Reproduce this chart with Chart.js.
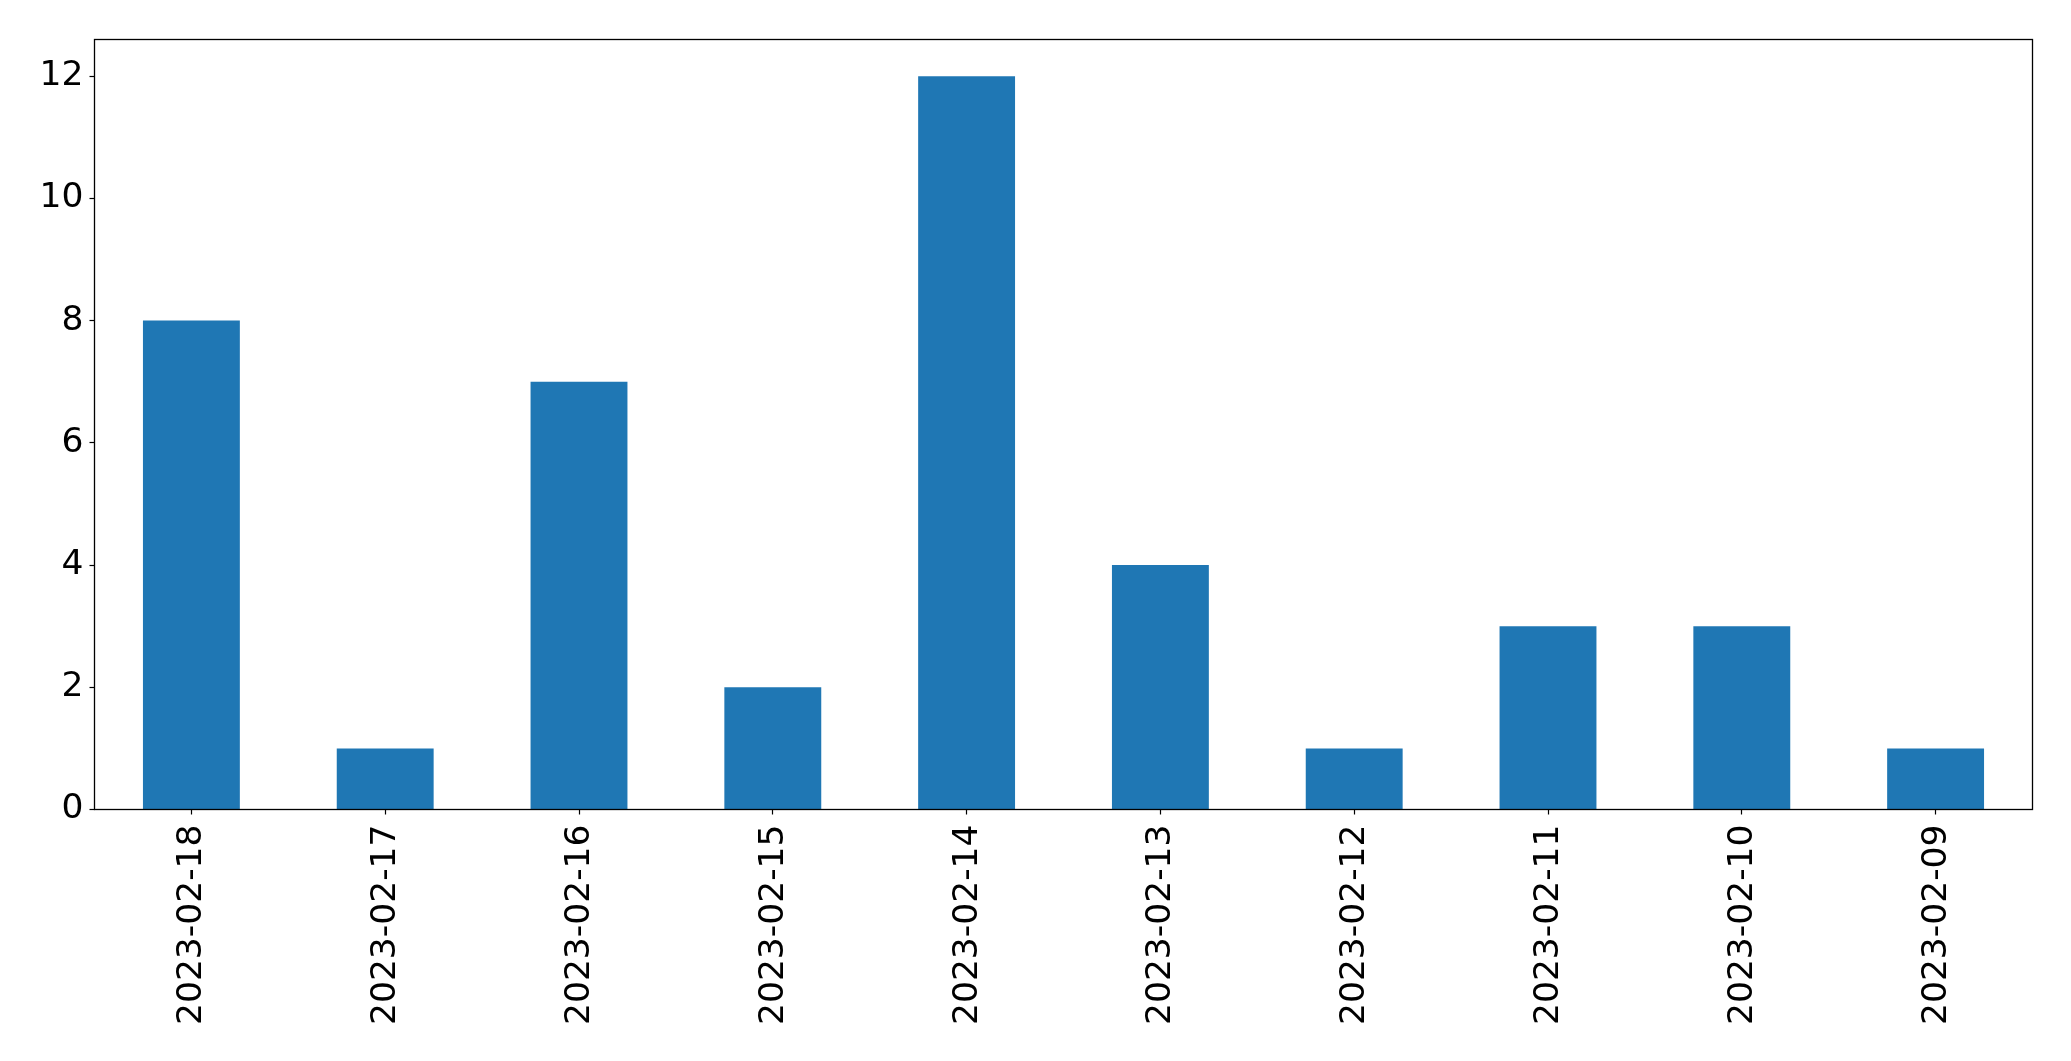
<!DOCTYPE html>
<html>
<head>
<meta charset="utf-8">
<script src="https://cdn.jsdelivr.net/npm/chart.js@4"></script>
<style>
  body { margin: 0; background: #fff; }
</style>
</head>
<body>
<canvas id="bar-chart" width="2071" height="1061"></canvas>
<script>
const dates = ["2023-02-18", "2023-02-17", "2023-02-16", "2023-02-15", "2023-02-14",
               "2023-02-13", "2023-02-12", "2023-02-11", "2023-02-10", "2023-02-09"];
const counts = [8, 1, 7, 2, 12, 4, 1, 3, 3, 1];
const yTicks = [0, 2, 4, 6, 8, 10, 12];

//box round the plot area, like matplotlib spines
const frame = {
    id: "frame",
    afterDraw(c) {
        const a = c.chartArea;
        const ctx = c.ctx;
        ctx.save();
        ctx.strokeStyle = "#000";
        ctx.lineWidth = 1.3;
        ctx.strokeRect(a.left, a.top, a.right - a.left, a.bottom - a.top);
        ctx.restore();
    }
};

let chart = document.getElementById("bar-chart");
new Chart(chart, {
    type: "bar",
    data: {
        labels: dates,
        datasets: [{
            data: counts,
            backgroundColor: "#1f77b4",
            barPercentage: 0.5,
            categoryPercentage: 1.0
        }]
    },
    options: {
        responsive: false,
        animation: false,
        layout: {padding: {top: 39.5, right: 38.5, left: 0, bottom: 0}},
        plugins: {legend: {display: false}, tooltip: {enabled: false}},
        scales: {
            x: {
                offset: true,
                grid: {display: true, drawOnChartArea: false, tickLength: 5, tickColor: "#000", tickWidth: 1.2, offset: false},
                border: {display: false},
                ticks: {
                    color: "#000",
                    font: {family: "DejaVu Sans", size: 34.5},
                    minRotation: 90, maxRotation: 90,
                    padding: 10,
                    labelOffset: 1,
                    autoSkip: false
                },
                afterFit(s) { s.height = 251.5; }
            },
            y: {
                min: 0,
                max: 12.6,
                grid: {display: true, drawOnChartArea: false, tickLength: 5, tickColor: "#000", tickWidth: 1.2},
                border: {display: false},
                afterBuildTicks(s) { s.ticks = yTicks.map(v => ({value: v})); },
                ticks: {
                    color: "#000",
                    font: {family: "DejaVu Sans", size: 34.5},
                    padding: 6,
                    includeBounds: false
                },
                afterFit(s) { s.width = 94.5; }
            }
        }
    },
    plugins: [frame]
});
</script>
</body>
</html>
